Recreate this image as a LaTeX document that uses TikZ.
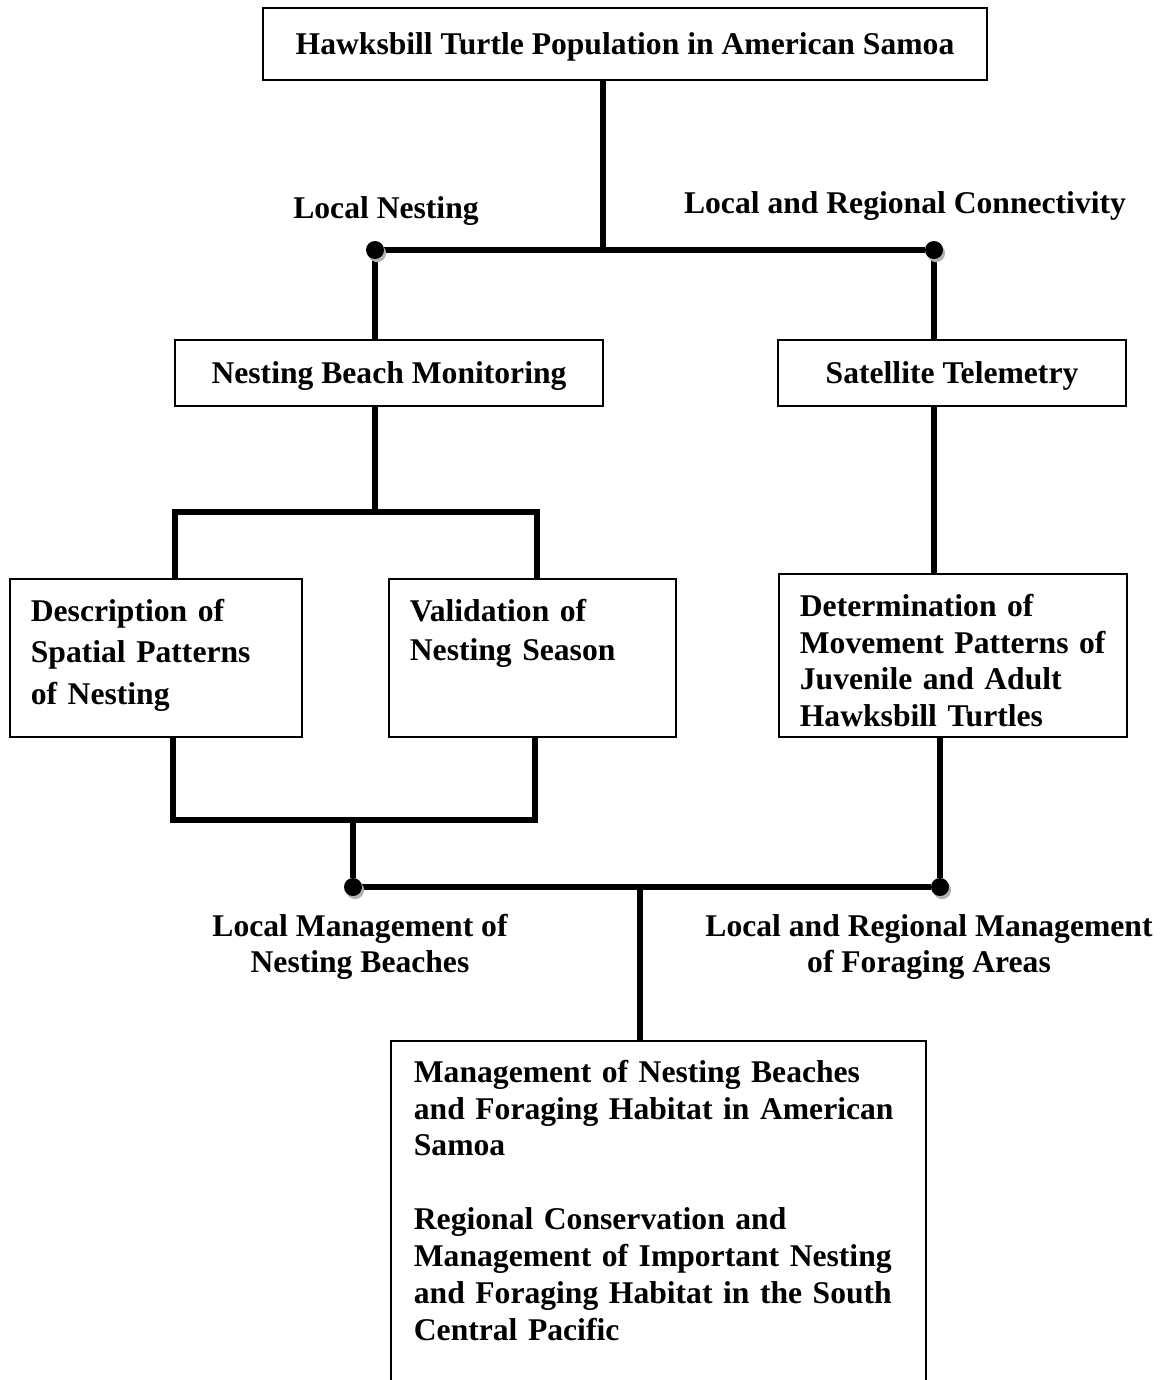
\documentclass[tikz,border=0pt]{standalone}
\usepackage{fontspec}
\setmainfont{Liberation Serif}
\usepackage{tikz}
\usetikzlibrary{backgrounds,shadows}

\begin{document}
\begin{tikzpicture}[x=0.02cm, y=-0.02cm, font=\fontsize{18}{21}\selectfont\bfseries,
		box/.style={draw, line width=1pt, inner sep=0pt, text height=0.55cm, text depth=0.15cm},
		blk/.style={draw, line width=1pt, anchor=north west, align=left, inner xsep=0.42cm, inner ysep=0.4cm},
		lab/.style={align=center, inner sep=0pt, font=\fontsize{18}{20.5}\selectfont\bfseries},
		wire/.style={line width=3.4pt, preaction={draw=black!22, transform canvas={xshift=1.2pt, yshift=-1.2pt}}},
		dot/.style={circle, fill, inner sep=0pt, minimum size=0.36cm,
			drop shadow={shadow xshift=1.2pt, shadow yshift=-1.8pt, fill=black!30, opacity=1}}]
		\useasboundingbox (0,0) rectangle (1160,1380);

		\node[box, minimum width=14.48cm, minimum height=1.44cm] (pop) at (625,44) {Hawksbill Turtle Population in American Samoa};
		\node[box, minimum width=8.56cm, minimum height=1.32cm] (nbm) at (389,373) {Nesting Beach Monitoring};
		\node[box, minimum width=6.96cm, minimum height=1.32cm] (sat) at (952,373) {Satellite Telemetry};
		\node[blk, text width=5cm, text depth=1.91cm, font=\fontsize{18}{23.6}\selectfont\bfseries] (desc) at (9,578) {Description of\\Spatial Patterns\\of Nesting};
		\node[blk, text width=4.9cm, text depth=1.91cm, font=\fontsize{18}{22.2}\selectfont\bfseries] (val) at (388,578) {Validation of\\Nesting Season};
		\node[blk, text width=6.12cm, text depth=2.01cm] (det) at (778,573) {Determination of\\Movement Patterns of\\Juvenile and Adult\\Hawksbill Turtles};
		\node[blk, text width=9.78cm, inner xsep=0.46cm, inner ysep=0.38cm, text depth=7cm] (goal) at (390,1040) {Management of Nesting Beaches\\and Foraging Habitat in American\\Samoa\\[21pt]Regional Conservation and\\Management of Important Nesting\\and Foraging Habitat in the South\\Central Pacific};

		\node[lab] (locnest) at (386,211) {Local Nesting};
		\node[lab] (regconn) at (905,206) {Local and Regional Connectivity};
		\node[lab] (locman) at (360,947) {Local Management of\\Nesting Beaches};
		\node[lab] (regman) at (929,947) {Local and Regional Management\\of Foraging Areas};

		\node[dot] (d1) at (375,250) {};
		\node[dot] (d2) at (934,250) {};
		\node[dot] (d3) at (353,887) {};
		\node[dot] (d4) at (940,887) {};
		\coordinate (j1) at (603,250);
		\coordinate (j3) at (640,887);
		\coordinate (b1) at (175,512);
		\coordinate (b2) at (537,512);
		\coordinate (c1) at (173,820);
		\coordinate (c2) at (535,820);

		\begin{scope}[on background layer]
			\draw[wire] (pop.south -| j1) -- (j1);
			\draw[wire] (d1) -- (d2);
			\draw[wire] (d1) -- (d1 |- nbm.north);
			\draw[wire] (d2) -- (d2 |- sat.north);
			\draw[wire] (nbm.south -| d1) -- (d1 |- b1);
			\draw[wire] (desc.north -| b1) -- (b1) -- (b2) -- (val.north -| b2);
			\draw[wire] (sat.south -| d2) -- (det.north -| d2);
			\draw[wire] (desc.south -| c1) -- (c1) -- (c2) -- (val.south -| c2);
			\draw[wire] (c1 -| d3) -- (d3);
			\draw[wire] (det.south -| d4) -- (d4);
			\draw[wire] (d3) -- (d4);
			\draw[wire] (j3) -- (j3 |- goal.north);
		\end{scope}
\end{tikzpicture}
\end{document}
